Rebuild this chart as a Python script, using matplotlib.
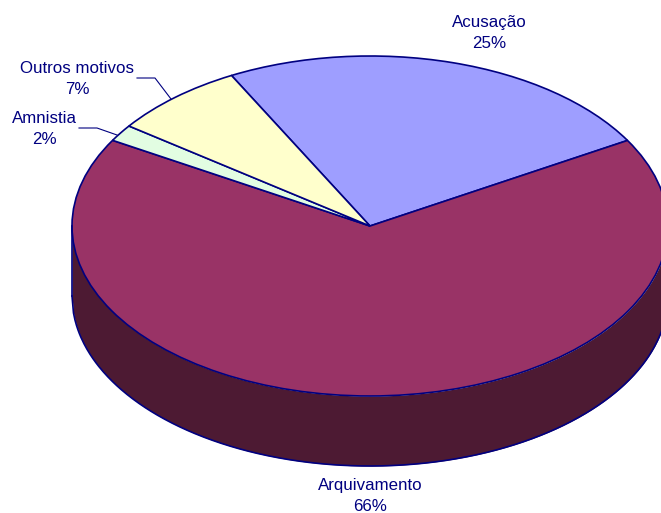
import numpy as np
import matplotlib
matplotlib.use('Agg')
import matplotlib.pyplot as plt

plt.rcParams['font.family'] = ['Liberation Sans', 'DejaVu Sans']

categories = ['Acusação', 'Arquivamento', 'Amnistia', 'Outros motivos']
shares = [24.3, 66.8, 1.6, 7.3]
share_labels = ['25%', '66%', '2%', '7%']
colors = ['#9e9eff', '#993366', '#e2fde2', '#ffffcc']

navy = '#000080'
wall_color = '#4d1a33'

# pie is a unit circle squashed by the axes limits, centre at pixel (370, 226)
cx, cy, rx, ry = 370, 226, 298, 170
depth = 70 / ry


def px(x, y):
    return (x - cx) / rx, (cy - y) / ry


fig = plt.figure(figsize=(6.61, 5.13), dpi=100)
ax = fig.add_axes([0, 0, 1, 1])

# side wall first, the top goes over it
t = np.linspace(-1, 1, 400)
lower = -np.sqrt(1 - t ** 2)
ax.fill_between(t, lower - depth, lower, color=wall_color, lw=0)
ax.plot(t, lower - depth, color=navy, lw=1.2)
ax.plot([-1, -1], [0, -depth], color=navy, lw=1.2)
ax.plot([1, 1], [0, -depth], color=navy, lw=1.2)

ax.pie(shares, colors=colors, startangle=117.7, counterclock=False,
       wedgeprops={'edgecolor': navy, 'linewidth': 1.2}, frame=True)

ax.set_aspect('auto')
ax.set_xlim(-cx / rx, (661 - cx) / rx)
ax.set_ylim((cy - 513) / ry, cy / ry)
ax.axis('off')

label_pos = [(489, 33), (370, 496), (44, 129), (77, 79)]
for name, share, pos in zip(categories, share_labels, label_pos):
    ax.text(*px(*pos), name + '\n' + share, color=navy, fontsize=12.2,
            ha='center', va='center', linespacing=1.42)

# leader lines
for line in ([(137, 78), (155, 78), (171, 99)], [(79, 128), (97, 128), (117, 135)]):
    xs, ys = zip(*[px(*p) for p in line])
    ax.plot(xs, ys, color=navy, lw=0.8)

fig.savefig('out.png', dpi=100)
